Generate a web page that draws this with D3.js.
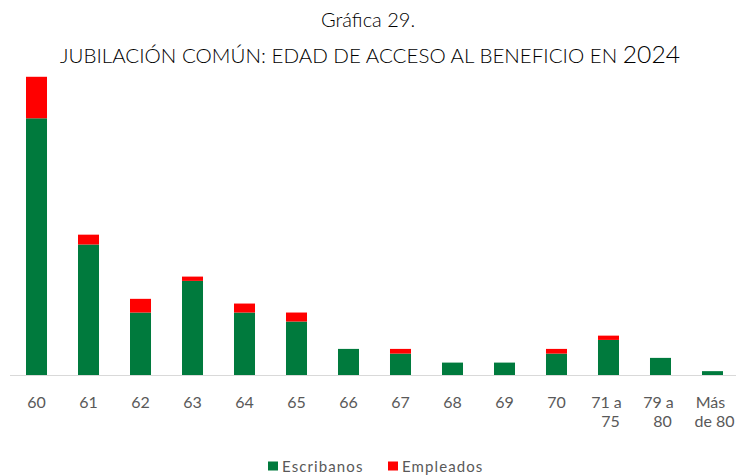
<!DOCTYPE html>
<html>
<head>
<meta charset="utf-8">
<script src="https://cdn.jsdelivr.net/npm/d3@7"></script>
<style>
  body { margin: 0; background: #fff; }
  text { font-family: Lato, "Open Sans", sans-serif; }
</style>
</head>
<body>
<div id="chart"></div>
<script>
(function() {
  const width = 736
  const height = 475

  // 年龄段 / series
  const categories = ['60', '61', '62', '63', '64', '65', '66', '67', '68', '69', '70', '71 a 75', '79 a 80', 'Más de 80']
  const tickLines = [['60'], ['61'], ['62'], ['63'], ['64'], ['65'], ['66'], ['67'], ['68'], ['69'], ['70'], ['71 a', '75'], ['79 a', '80'], ['Más', 'de 80']]
  const escribanos = [60, 30.5, 14.6, 22, 14.6, 12.5, 6.1, 5, 2.9, 2.9, 5, 8.2, 4, 0.9]
  const empleados = [9.7, 2.3, 3.2, 1, 2.1, 2.1, 0, 1.1, 0, 0, 1.1, 1, 0, 0]
  const seriesNames = ['Escribanos', 'Empleados']
  const colors = ['#007a3d', '#ff0000']

  const rows = categories.map((c, i) => ({ cat: c, Escribanos: escribanos[i], Empleados: empleados[i] }))
  const stacked = d3.stack().keys(seriesNames)(rows)

  const x = d3.scaleBand()
    .domain(categories)
    .range([26, 723])
    .paddingInner(0.596)
    .paddingOuter(0)

  const y = d3.scaleLinear()
    .domain([0, 70])
    .range([375, 75.5])

  const svg = d3.select('#chart').append('svg')
    .attr('width', width)
    .attr('height', height)

  // title
  svg.append('text')
    .attr('x', width / 2)
    .attr('y', 27)
    .attr('text-anchor', 'middle')
    .attr('font-size', 20)
    .attr('font-weight', 300)
    .attr('fill', '#000')
    .text('Gráfica 29.')

  const t2 = svg.append('text')
    .attr('x', width / 2 + 2)
    .attr('y', 63)
    .attr('text-anchor', 'middle')
    .attr('font-size', 20)
    .attr('font-weight', 300)
    .attr('fill', '#000')
    .attr('textLength', 620)
    .attr('lengthAdjust', 'spacingAndGlyphs')
  t2.append('tspan').text('JUBILACIÓN COMÚN: EDAD DE ACCESO AL BENEFICIO EN ')
  t2.append('tspan').attr('font-size', 24).text('2024')

  // bars
  svg.append('g')
    .selectAll('g')
    .data(stacked)
    .join('g')
      .attr('fill', (d, i) => colors[i])
    .selectAll('rect')
    .data(d => d)
    .join('rect')
      .attr('x', d => x(d.data.cat))
      .attr('y', d => y(d[1]))
      .attr('width', x.bandwidth())
      .attr('height', d => y(d[0]) - y(d[1]))

  // axis
  const xAxis = svg.append('g')
    .attr('transform', `translate(0,${y(0)})`)
    .call(d3.axisBottom(x).tickSize(0).tickPadding(0))
  xAxis.select('.domain').attr('stroke', '#d9d9d9').attr('d', 'M10,0.5H736')
  xAxis.selectAll('.tick text').remove()
  xAxis.selectAll('.tick').each(function(d, k) {
    const lines = tickLines[k]
    const txt = d3.select(this).append('text')
      .attr('fill', '#595959')
      .attr('font-size', 16)
      .attr('text-anchor', 'middle')
    lines.forEach((l, i) => {
      txt.append('tspan')
        .attr('x', lines.length > 1 ? (i === 0 ? -2 : 2) : 0)
        .attr('y', 33 + i * 19)
        .text(l)
    })
  })

  // legend
  const legend = svg.append('g').attr('transform', 'translate(268,466)')
  const items = [{ name: seriesNames[0], c: colors[0], dx: 0 }, { name: seriesNames[1], c: colors[1], dx: 120 }]
  items.forEach(it => {
    const g = legend.append('g').attr('transform', `translate(${it.dx},0)`)
    g.append('rect').attr('x', 0).attr('y', -4.5).attr('width', 10).attr('height', 9).attr('fill', it.c)
    g.append('text').attr('x', 14).attr('y', 5.5).attr('font-size', 15)
      .attr('letter-spacing', 1.1).attr('fill', '#595959').text(it.name)
  })
})()
</script>
</body>
</html>
